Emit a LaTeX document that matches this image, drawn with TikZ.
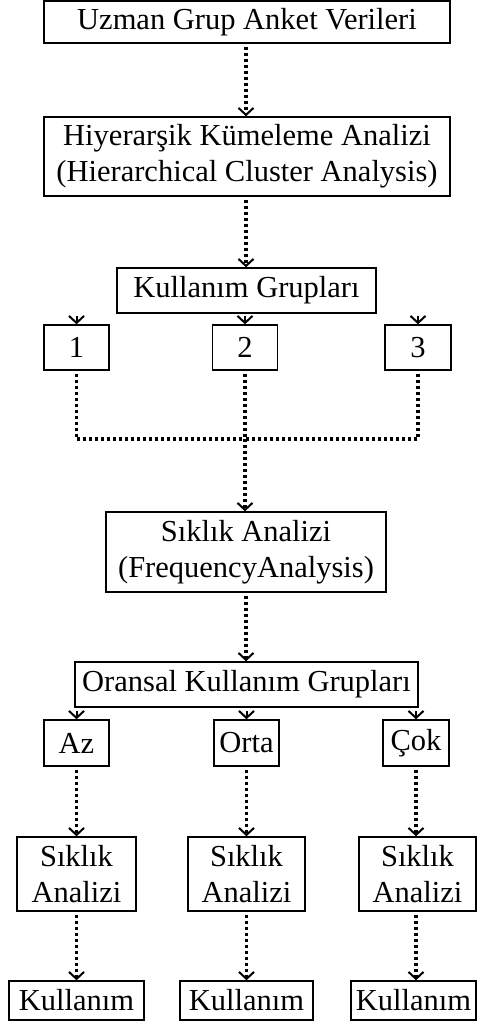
\documentclass[tikz,border=0pt]{standalone}
\usepackage{fontspec}
\setmainfont{Liberation Serif}
\usetikzlibrary{arrows.meta}
\begin{document}
\begin{tikzpicture}[x=1pt,y=-1pt,
  box/.style={draw, line width=1.4pt, inner sep=0pt, align=center,
    font=\fontsize{30.5}{36}\selectfont},
  dotline/.style={line width=3.6pt, line cap=butt, dash pattern=on 3.2pt off 2.8pt},
  arr/.style={dotline, -{Straight Barb[length=7pt,width=15pt,line width=2pt,line cap=butt]}},
  tip/.style={-{Straight Barb[length=7pt,width=15pt,line width=2pt,line cap=butt]}, line width=2pt}]
\useasboundingbox (0,0) rectangle (477,1028);

\node[box, minimum width=406pt, minimum height=42pt] (top) at (247,22) {Uzman Grup Anket Verileri};
\node[box, minimum width=406pt, minimum height=79pt] (hka) at (247,156.5) {Hiyerarşik Kümeleme Analizi\\(Hierarchical Cluster Analysis)};
\node[box, minimum width=259pt, minimum height=45pt] (kg) at (246.5,290.5) {Kullanım Grupları};
\node[box, minimum width=65pt, minimum height=45pt] (n1) at (76.5,347.5) {1};
\node[box, minimum width=65pt, minimum height=45pt] (n2) at (245,347.5) {2};
\node[box, minimum width=66pt, minimum height=45pt] (n3) at (418,347.5) {3};
\coordinate (j) at (245,439);
\node[box, minimum width=280pt, minimum height=80pt] (sa) at (246,552) {Sıklık Analizi\\(FrequencyAnalysis)};
\node[box, minimum width=343pt, minimum height=45pt] (okg) at (246.5,684.5) {Oransal Kullanım Grupları};
\node[box, minimum width=65pt, minimum height=46pt] (az) at (76.5,743) {Az};
\node[box, minimum width=65pt, minimum height=46pt] (orta) at (246.5,743) {Orta};
\node[box, minimum width=66pt, minimum height=46pt] (cok) at (416,743) {Çok};
\node[box, minimum width=119pt, minimum height=74pt] (s1) at (76.5,874) {Sıklık\\Analizi};
\node[box, minimum width=117pt, minimum height=74pt] (s2) at (246.5,874) {Sıklık\\Analizi};
\node[box, minimum width=117pt, minimum height=74pt] (s3) at (417.5,874) {Sıklık\\Analizi};
\node[box, minimum width=135pt, minimum height=39pt] (k1) at (76.5,1000.5) {Kullanım};
\node[box, minimum width=133pt, minimum height=39pt] (k2) at (246.5,1000.5) {Kullanım};
\node[box, minimum width=125pt, minimum height=39pt] (k3) at (413.5,1000.5) {Kullanım};

\draw[arr] (top.south -| 246,0) ++(0,3) -- (hka.north -| 246,0);
\draw[arr] (hka.south -| 246,0) ++(0,3) -- (kg.north -| 246,0);
\draw[tip] ([yshift=8pt]n1.north) -- (n1.north);
\draw[tip] ([yshift=8pt]n2.north) -- (n2.north);
\draw[tip] ([yshift=8pt]n3.north) -- (n3.north);
\draw[dotline] ([yshift=-3pt]n1.south) |- (j);
\draw[dotline] ([yshift=-3pt]n3.south) |- (j);
\draw[dotline] ([yshift=-3pt]n2.south) -- (j);
\draw[arr] (j) -- (sa.north -| j);
\draw[arr] (sa.south -| 246,0) ++(0,3) -- (okg.north -| 246,0);
\draw[tip] ([yshift=8pt]az.north) -- (az.north);
\draw[tip] ([yshift=8pt]orta.north) -- (orta.north);
\draw[tip] ([yshift=8pt]cok.north) -- (cok.north);
\draw[arr] ([yshift=-3pt]az.south) -- (s1.north);
\draw[arr] ([yshift=-3pt]orta.south) -- (s2.north);
\draw[arr] ([yshift=-3pt]cok.south) -- (cok.south |- s3.north);
\draw[arr] ([yshift=-3pt]s1.south) -- (k1.north);
\draw[arr] ([yshift=-3pt]s2.south) -- (k2.north);
\draw[arr] ([yshift=-3pt]s3.south -| cok.south) -- (cok.south |- k3.north);
\end{tikzpicture}
\end{document}
